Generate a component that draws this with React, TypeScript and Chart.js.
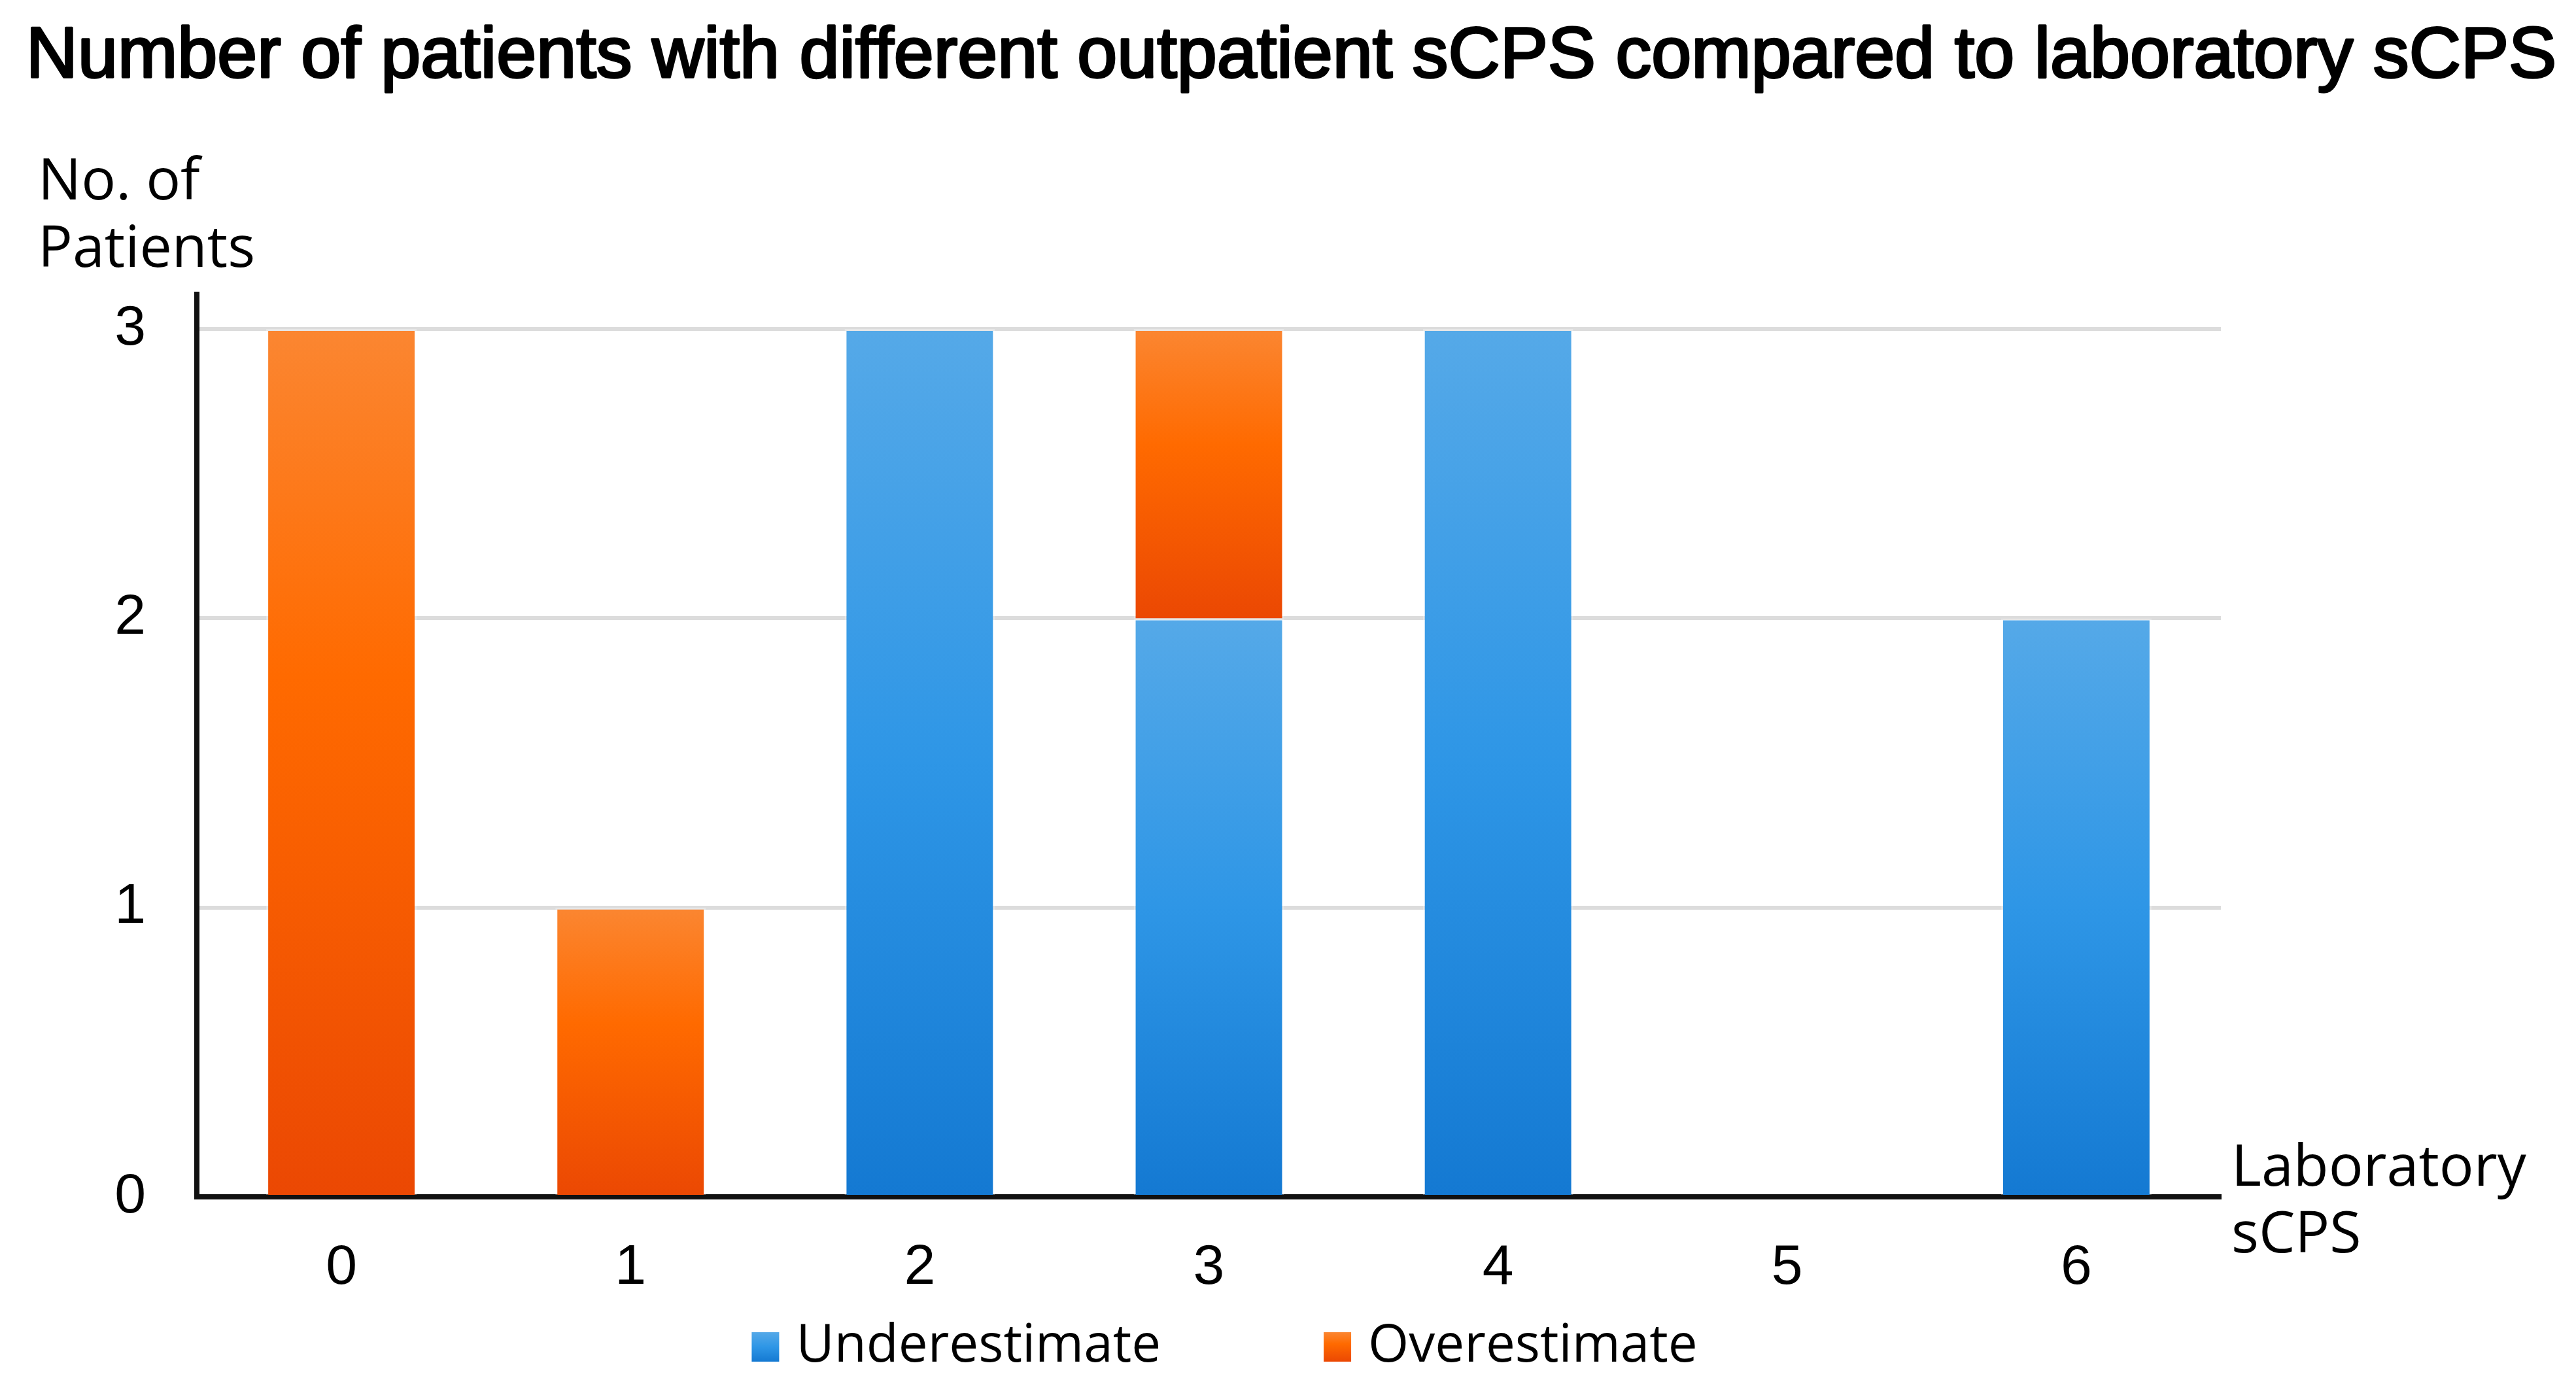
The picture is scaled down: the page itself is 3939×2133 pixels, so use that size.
import React, { useEffect, useRef } from "react";
import { Chart, registerables } from "chart.js";

Chart.register(...registerables);

// ---- data ----
const categories = ["0", "1", "2", "3", "4", "5", "6"];
const underestimate = [0, 0, 3, 2, 3, 0, 2];
const overestimate = [3, 1, 0, 1, 0, 0, 0];
const yTickValues = [0, 1, 2, 3];
const seriesLabels = ["Underestimate", "Overestimate"];
const titleText =
  "Number of patients with different outpatient sCPS compared to laboratory sCPS";
const yTitleLines = ["No. of", "Patients"];
const xTitleLines = ["Laboratory", "sCPS"];

// ---- styles ----
const W = 3939;
const H = 2133;
const blueStops: [number, string][] = [
  [0, "#55A9E8"],
  [0.5, "#2E96E6"],
  [1, "#1479D2"],
];
const orangeStops: [number, string][] = [
  [0, "#FB8631"],
  [0.4, "#FF6A00"],
  [1, "#EB4803"],
];
const seriesStops = [blueStops, orangeStops];
const tickFont = "'Liberation Sans', Arial, sans-serif";
const labelFont = "'Open Sans', 'Noto Sans', sans-serif";

function makeFill(seriesIndex: number) {
  const stops = seriesStops[seriesIndex];
  return (ctx: any) => {
    const chart = ctx.chart;
    const y = chart.scales && chart.scales.y;
    if (ctx.type !== "data" || !y) return stops[1][1];
    const i = ctx.dataIndex;
    const start = seriesIndex === 0 ? 0 : underestimate[i] || 0;
    const val = seriesIndex === 0 ? underestimate[i] : overestimate[i];
    const top = y.getPixelForValue(start + val);
    const bot = y.getPixelForValue(start);
    if (!isFinite(top) || !isFinite(bot) || bot - top < 1) return stops[1][1];
    const g = chart.ctx.createLinearGradient(0, top, 0, bot);
    stops.forEach(([o, c]) => g.addColorStop(o, c));
    return g;
  };
}

const decorPlugin = {
  id: "decor",
  afterDraw(chart: any) {
    const { ctx, chartArea } = chart;
    ctx.save();
    // title (semi-bold look: fill + thin stroke)
    ctx.fillStyle = "#000";
    ctx.strokeStyle = "#000";
    ctx.lineWidth = 3.5;
    ctx.lineJoin = "round";
    ctx.textAlign = "center";
    ctx.textBaseline = "alphabetic";
    ctx.font = `109.7px ${tickFont}`;
    ctx.fillText(titleText, W / 2 + 5, 118);
    ctx.strokeText(titleText, W / 2 + 5, 118);

    ctx.textAlign = "left";
    // y-axis title
    ctx.font = `88px ${labelFont}`;
    ctx.fillText(yTitleLines[0], 58, chartArea.top - 145);
    ctx.fillText(yTitleLines[1], 58, chartArea.top - 42);
    // x-axis title
    ctx.fillText(xTitleLines[0], chartArea.right + 16, chartArea.bottom - 17);
    ctx.fillText(xTitleLines[1], chartArea.right + 16, chartArea.bottom + 85);

    // legend
    ctx.font = `80px ${labelFont}`;
    const boxW = 42;
    const boxH = 45;
    const gapText = 26;
    const gapItem = 249;
    const widths = seriesLabels.map((l) => ctx.measureText(l).width);
    const total =
      widths.reduce((a, b) => a + b, 0) +
      seriesLabels.length * (boxW + gapText) +
      gapItem * (seriesLabels.length - 1);
    const center = (chartArea.left + chartArea.right) / 2 + 24;
    let x = center - total / 2;
    const baseline = chartArea.bottom + 252;
    seriesLabels.forEach((label, i) => {
      const g = ctx.createLinearGradient(0, baseline - boxH, 0, baseline);
      seriesStops[i].forEach(([o, c]) => g.addColorStop(o, c));
      ctx.fillStyle = g;
      ctx.fillRect(x, baseline - boxH, boxW, boxH);
      x += boxW + gapText;
      ctx.fillStyle = "#000";
      ctx.fillText(label, x, baseline);
      x += widths[i] + gapItem;
    });
    ctx.restore();
  },
};

export default function App() {
  const ref = useRef<HTMLCanvasElement | null>(null);

  useEffect(() => {
    document.body.style.margin = "0";
    const canvas = ref.current;
    if (!canvas) return;
    const chart = new Chart(canvas, {
      type: "bar",
      data: {
        labels: categories,
        datasets: [
          {
            label: seriesLabels[0],
            data: underestimate.map((v) => (v === 0 ? null : v)),
            backgroundColor: makeFill(0),
            borderColor: "rgba(255,255,255,0.3)",
            borderWidth: 3,
            borderSkipped: "start",
            barPercentage: 0.52,
            categoryPercentage: 1,
          },
          {
            label: seriesLabels[1],
            data: overestimate.map((v) => (v === 0 ? null : v)),
            backgroundColor: makeFill(1),
            borderColor: "rgba(255,255,255,0.3)",
            borderWidth: 3,
            borderSkipped: "start",
            barPercentage: 0.52,
            categoryPercentage: 1,
          },
        ],
      },
      options: {
        responsive: false,
        animation: false,
        devicePixelRatio: 1,
        layout: { padding: { left: 0, right: 543, top: 450, bottom: 0 } },
        plugins: {
          legend: { display: false },
          tooltip: { enabled: false },
          title: { display: false },
        },
        scales: {
          x: {
            type: "category",
            stacked: true,
            grid: { display: false, drawTicks: false },
            border: { display: true, color: "#111", width: 8 },
            ticks: {
              color: "#000",
              padding: 58,
              font: { family: tickFont, size: 86 },
            },
            afterFit: (scale: any) => {
              scale.height = 303;
            },
          },
          y: {
            type: "linear",
            stacked: true,
            min: 0,
            max: 3.12,
            grid: { color: "#DCDCDC", lineWidth: 6, drawTicks: false },
            border: { display: true, color: "#111", width: 8 },
            ticks: {
              color: "#000",
              padding: 78,
              font: { family: tickFont, size: 86 },
            },
            afterBuildTicks: (scale: any) => {
              scale.ticks = yTickValues.map((v) => ({ value: v }));
            },
            afterFit: (scale: any) => {
              scale.width = 301;
            },
          },
        },
      },
      plugins: [decorPlugin],
    } as any);
    return () => chart.destroy();
  }, []);

  return (
    <div style={{ width: W, height: H, background: "#fff" }}>
      <canvas ref={ref} width={W} height={H} style={{ width: W, height: H, display: "block" }} />
    </div>
  );
}
